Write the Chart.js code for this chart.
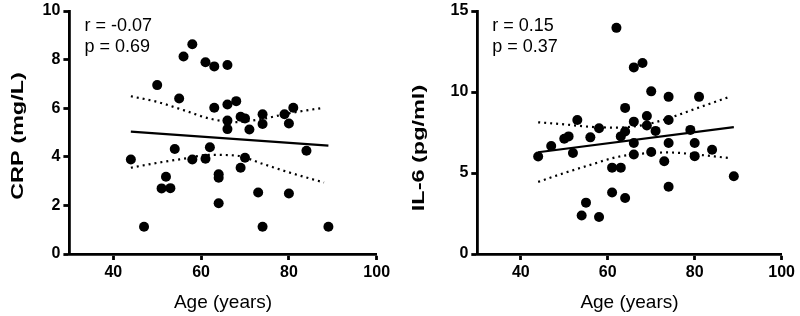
<!DOCTYPE html>
<html>
<head>
<meta charset="utf-8">
<script src="https://cdn.jsdelivr.net/npm/chart.js@4.4.1/dist/chart.umd.min.js"></script>
<style>
  html, body { margin: 0; padding: 0; background: #fff; }
  #wrap { position: relative; width: 800px; height: 316px; }
  canvas { position: absolute; top: 0; }
  #c1 { left: 0; }
  #c2 { left: 400px; }
</style>
</head>
<body>
<div id="wrap">
  <canvas id="c1" width="400" height="316"></canvas>
  <canvas id="c2" width="400" height="316"></canvas>
</div>
<script>
// ---------- DATA ----------
const AGE_TICKS = [40, 60, 80, 100];
const CRP_TICKS = [0, 2, 4, 6, 8, 10];
const IL6_TICKS = [0, 5, 10, 15];

// Panel A: CRP vs age
const crpAge = [44, 47, 50, 52, 51, 53, 55, 54, 56, 58, 58, 61, 63, 66, 61, 62, 63, 64, 64, 64,
                66, 66, 66, 68, 69, 70, 69, 70, 71, 73, 74, 74, 74, 79, 81, 80, 80, 84, 89];
const crpVal = [3.89, 1.12, 6.95, 3.18, 2.70, 2.71, 6.40, 4.32, 8.13, 8.63, 3.89, 7.89, 7.72, 7.78, 3.92, 4.39, 6.02, 3.28, 3.14, 2.09,
                6.15, 5.49, 5.14, 6.29, 5.65, 5.58, 3.55, 3.96, 5.12, 2.53, 5.75, 5.35, 1.12, 5.75, 6.02, 5.37, 2.49, 4.25, 1.12];
const crpFitAge = [44, 89];
const crpFitVal = [5.04, 4.46];
const bandAge = [44, 50, 56, 62, 68, 74, 80, 88];
const crpUpper = [6.49, 6.26, 5.92, 5.57, 5.43, 5.56, 5.79, 6.02];
const crpLower = [3.55, 3.75, 3.92, 4.08, 4.05, 3.71, 3.36, 2.94];

// Panel B: IL-6 vs age
const il6Age = [44, 47, 50, 51, 52, 53, 54, 55, 56, 58, 58, 61, 61, 62, 63, 63, 64, 64, 64, 66,
                66, 66, 66, 68, 69, 69, 70, 70, 71, 73, 74, 74, 74, 74, 79, 80, 80, 81, 84, 89];
const il6Val = [6.02, 6.67, 7.11, 7.26, 6.24, 8.27, 2.38, 3.17, 7.20, 2.28, 7.76, 3.80, 5.33, 13.96, 5.33, 7.26, 9.02, 7.56, 3.46, 11.52,
                8.17, 6.85, 6.14, 11.79, 8.52, 7.93, 10.04, 6.30, 7.60, 5.73, 9.70, 8.27, 6.85, 4.15, 7.66, 6.85, 6.04, 9.70, 6.44, 4.80];
const il6FitAge = [44, 89];
const il6FitVal = [6.28, 7.83];
const il6Upper = [8.13, 8.00, 7.85, 7.80, 7.95, 8.38, 8.95, 9.70];
const il6Lower = [4.45, 5.00, 5.50, 5.98, 6.20, 6.27, 6.15, 5.92];

const STATS_A = ['r = -0.07', 'p = 0.69'];
const STATS_B = ['r = 0.15', 'p = 0.37'];

// ---------- CHART ----------
const FAMILY = '"Liberation Sans", Arial, Helvetica, sans-serif';
const pts = (xs, ys) => xs.map((x, i) => ({ x: x, y: ys[i] }));

const textPlugin = {
  id: 'panelTexts',
  afterDraw(chart, args, o) {
    const ctx = chart.ctx;
    const a = chart.chartArea;
    ctx.save();
    ctx.fillStyle = '#000';
    ctx.font = 'bold 17px ' + FAMILY;
    ctx.translate(o.titleX, o.titleY);
    ctx.rotate(-Math.PI / 2);
    ctx.scale(o.stretch, 1);
    ctx.textAlign = 'center';
    ctx.textBaseline = 'middle';
    ctx.fillText(o.yTitle, 0, 0);
    ctx.restore();

    ctx.save();
    ctx.fillStyle = '#000';
    ctx.font = '18px ' + FAMILY;
    ctx.textAlign = 'left';
    ctx.textBaseline = 'alphabetic';
    o.stats.forEach((s, i) => ctx.fillText(s, a.left + o.statsDx, o.statsY + i * o.statsGap));
    ctx.restore();
  }
};

function makeChart(id, cfg) {
  const axisTickFont = { family: FAMILY, size: 16, weight: 'bold', lineHeight: 1 };
  return new Chart(document.getElementById(id), {
    type: 'scatter',
    data: {
      datasets: [
        {
          type: 'scatter',
          data: pts(cfg.ages, cfg.vals),
          backgroundColor: '#000',
          borderColor: '#000',
          borderWidth: 0,
          pointRadius: 5,
          order: 1
        },
        {
          type: 'line',
          data: pts(cfg.fitAge, cfg.fitVal),
          borderColor: '#000',
          borderWidth: 2.2,
          pointRadius: 0,
          fill: false,
          order: 0
        },
        {
          type: 'line',
          data: pts(bandAge, cfg.upper),
          borderColor: '#000',
          borderWidth: 2.2,
          borderDash: [2, 4],
          borderCapStyle: 'butt',
          pointRadius: 0,
          cubicInterpolationMode: 'monotone',
          fill: false,
          order: 0
        },
        {
          type: 'line',
          data: pts(bandAge, cfg.lower),
          borderColor: '#000',
          borderWidth: 2.2,
          borderDash: [2, 4],
          borderCapStyle: 'butt',
          pointRadius: 0,
          cubicInterpolationMode: 'monotone',
          fill: false,
          order: 0
        }
      ]
    },
    options: {
      responsive: false,
      animation: false,
      devicePixelRatio: 1,
      layout: { padding: { left: 0, right: cfg.padRight, top: 8, bottom: 2 } },
      plugins: {
        legend: { display: false },
        tooltip: { enabled: false },
        panelTexts: {
          yTitle: cfg.yTitle,
          titleX: cfg.titleX,
          titleY: cfg.titleY,
          stretch: 1.38,
          stats: cfg.stats,
          statsDx: 15,
          statsY: 31,
          statsGap: 20.7
        }
      },
      scales: {
        x: {
          type: 'linear',
          min: 30,
          max: 100,
          afterBuildTicks: s => { s.ticks = AGE_TICKS.map(v => ({ value: v })); },
          afterFit: s => { s.height = 316 - 254 - 2; },
          border: { display: true, color: '#000', width: 2.8 },
          grid: { display: true, drawOnChartArea: false, drawTicks: true, tickLength: 6, tickWidth: 2.8, tickColor: '#000', color: '#000' },
          ticks: { color: '#000', font: axisTickFont, padding: 5, autoSkip: false, maxRotation: 0 },
          title: { display: true, text: 'Age (years)', color: '#000', font: { family: FAMILY, size: 19 }, padding: { top: 0, bottom: 0 } }
        },
        y: {
          type: 'linear',
          min: 0,
          max: cfg.yMax,
          afterBuildTicks: s => { s.ticks = cfg.yTicks.map(v => ({ value: v })); },
          afterFit: s => { s.width = cfg.axisLeft; },
          border: { display: true, color: '#000', width: 2.8 },
          grid: { display: true, drawOnChartArea: false, drawTicks: true, tickLength: 6, tickWidth: 2.8, tickColor: '#000', color: '#000' },
          ticks: { color: '#000', font: axisTickFont, padding: 3, autoSkip: false }
        }
      }
    },
    plugins: [textPlugin]
  });
}

makeChart('c1', {
  ages: crpAge, vals: crpVal, fitAge: crpFitAge, fitVal: crpFitVal,
  upper: crpUpper, lower: crpLower, yMax: 10, yTicks: CRP_TICKS,
  yTitle: 'CRP (mg/L)', titleX: 18, titleY: 136, stats: STATS_A,
  axisLeft: 69.4, padRight: 23.3
});
makeChart('c2', {
  ages: il6Age, vals: il6Val, fitAge: il6FitAge, fitVal: il6FitVal,
  upper: il6Upper, lower: il6Lower, yMax: 15, yTicks: IL6_TICKS,
  yTitle: 'IL-6 (pg/ml)', titleX: 19, titleY: 148, stats: STATS_B,
  axisLeft: 77.3, padRight: 13.3
});
</script>
</body>
</html>
